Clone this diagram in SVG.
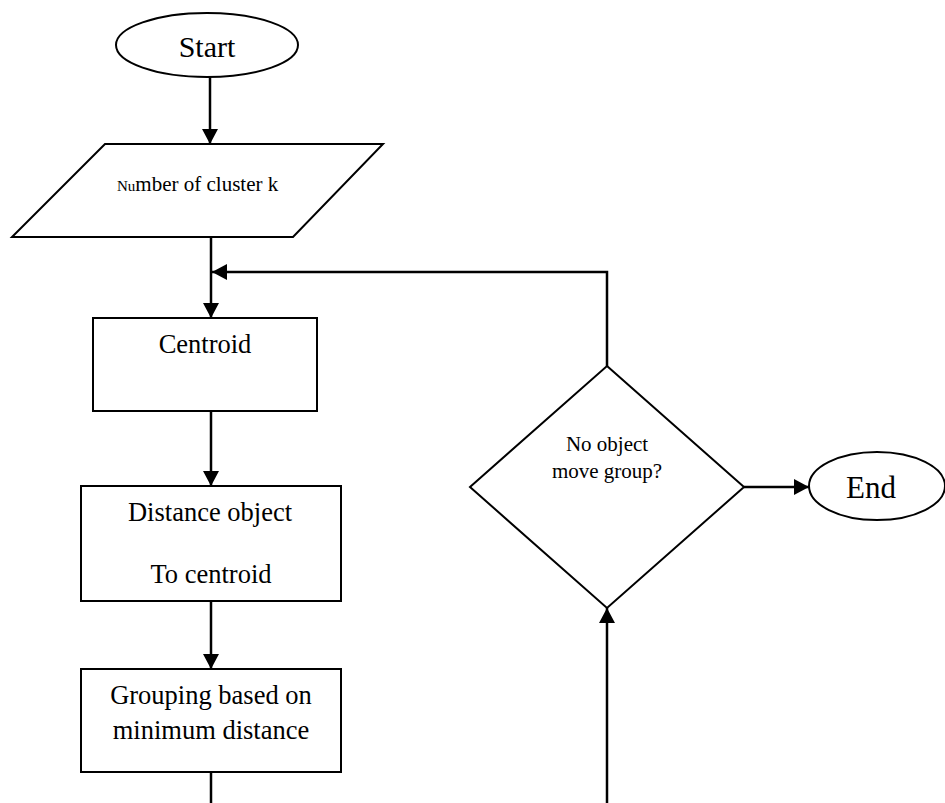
<svg xmlns="http://www.w3.org/2000/svg" width="945" height="803" viewBox="0 0 945 803">
<style>
.shape{fill:#fff;stroke:#000;stroke-width:2}
.conn{fill:none;stroke:#000;stroke-width:2.5}
text{font-family:"Liberation Serif","Times New Roman",serif;fill:#000;text-anchor:middle}
.big{font-size:30px}
.mid{font-size:26.5px}
.sm{font-size:21px}
</style>
<defs>
<marker id="ah" viewBox="0 0 15 16" refX="15" refY="8" markerWidth="15" markerHeight="16" markerUnits="userSpaceOnUse" orient="auto">
<path d="M0,0 L15,8 L0,16 Z" fill="#000"/>
</marker>
</defs>
<rect width="945" height="803" fill="#fff"/>
<g id="connectors">
<line class="conn" x1="210" y1="77" x2="210" y2="144" marker-end="url(#ah)"/>
<line class="conn" x1="211" y1="237" x2="211" y2="318" marker-end="url(#ah)"/>
<polyline class="conn" points="607,366 607,272 212,272" marker-end="url(#ah)"/>
<line class="conn" x1="211" y1="411" x2="211" y2="486" marker-end="url(#ah)"/>
<line class="conn" x1="211" y1="601" x2="211" y2="669" marker-end="url(#ah)"/>
<line class="conn" x1="211" y1="772" x2="211" y2="803"/>
<line class="conn" x1="607" y1="803" x2="607" y2="608" marker-end="url(#ah)"/>
<line class="conn" x1="744" y1="487" x2="809" y2="487" marker-end="url(#ah)"/>
</g>
<g id="start">
<ellipse class="shape" cx="207" cy="45" rx="91" ry="32"/>
<text class="big" x="207" y="57">Start</text>
</g>
<g id="input">
<polygon class="shape" points="105,144 383,144 293,237 12,237"/>
<text x="117" y="191" style="text-anchor:start;font-size:21px"><tspan font-size="15">Nu</tspan>mber of cluster k</text>
</g>
<g id="centroid">
<rect class="shape" x="93" y="318" width="224" height="93"/>
<text class="mid" x="205" y="353">Centroid</text>
</g>
<g id="distance">
<rect class="shape" x="81" y="486" width="260" height="115"/>
<text class="mid" x="210" y="521">Distance object</text>
<text class="mid" x="211" y="583">To centroid</text>
</g>
<g id="grouping">
<rect class="shape" x="81" y="669" width="260" height="103"/>
<text class="mid" x="211" y="704">Grouping based on</text>
<text class="mid" x="211" y="739">minimum distance</text>
</g>
<g id="decision">
<polygon class="shape" points="607,366 744,487 607,608 470,487"/>
<text class="sm" x="607" y="451">No object</text>
<text class="sm" x="607" y="478">move group?</text>
</g>
<g id="end">
<ellipse class="shape" cx="877" cy="486" rx="68" ry="34"/>
<text class="big" x="871" y="498" style="font-size:31px">End</text>
</g>
</svg>
